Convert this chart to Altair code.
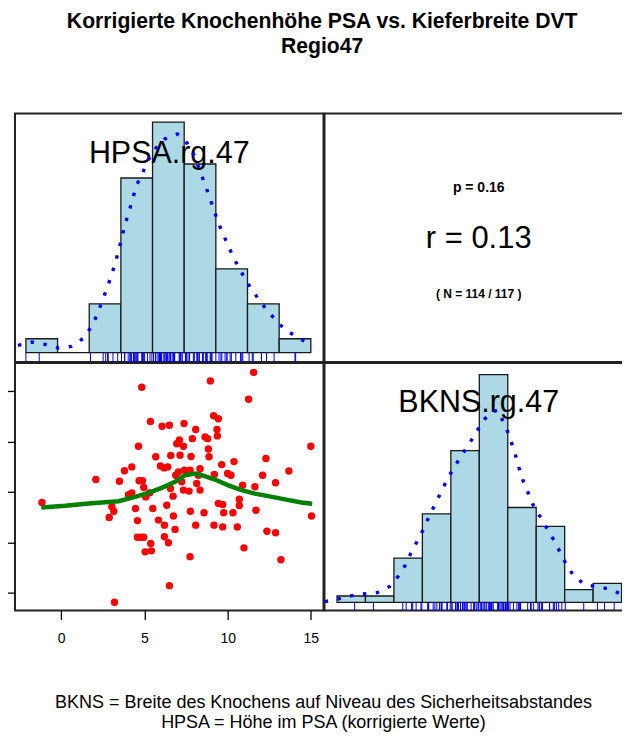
import altair as alt
import pandas as pd

FONT = "Liberation Sans"

TITLE = ["Korrigierte Knochenhöhe PSA vs. Kieferbreite DVT", "Regio47"]
CAPTION = ["BKNS = Breite des Knochens auf Niveau des Sicherheitsabstandes",
           "HPSA = Höhe im PSA (korrigierte Werte)"]
LABEL_X = "HPSA.rg.47"
LABEL_Y = "BKNS.rg.47"
p_value = 0.16
r_value = 0.13
n_pairs = 114
n_total = 117

# scatter: x = HPSA, y = BKNS
hpsa = [-1.16, 2.08, 3.20, 3.04, 3.16, 2.88, 3.50, 3.80, 4.24, 4.04, 4.24, 4.46, 4.58, 4.58,
        4.80, 4.96, 4.64, 4.84, 4.68, 4.88, 4.96, 5.08, 5.32, 5.36, 5.38, 5.04, 5.42, 5.50,
        5.68, 5.84, 5.96, 6.18, 6.40, 6.06, 6.50, 6.20, 6.20, 6.44, 6.34, 6.50, 6.58, 6.56,
        6.72, 6.74, 6.84, 6.88, 7.04, 6.94, 7.10, 7.34, 7.14, 7.24, 7.38, 7.34, 7.68, 7.40,
        7.74, 7.76, 7.80, 7.74, 7.88, 8.08, 8.08, 8.14, 8.34, 8.24, 8.34, 8.58, 8.64, 8.80,
        8.84, 8.88, 8.96, 9.16, 9.44, 9.36, 9.38, 9.20, 9.18, 9.44, 9.70, 9.64, 9.70, 9.76,
        10.00, 10.20, 10.32, 10.38, 10.58, 10.70, 10.70, 10.90, 10.98, 11.26, 11.56, 11.64,
        11.70, 12.10, 12.30, 12.36, 12.88, 12.88, 13.20, 13.68, 15.00, 15.04]
bkns = [7.58, 8.49, 3.62, 7.41, 7.23, 6.98, 8.42, 8.84, 8.99, 7.89, 7.96, 7.34, 6.86, 6.20,
        6.20, 6.20, 9.81, 12.15, 8.44, 8.44, 8.17, 7.80, 7.96, 10.79, 5.95, 5.62, 5.66, 7.34,
        9.39, 6.88, 9.03, 8.95, 8.99, 10.60, 10.64, 6.68, 6.22, 5.98, 7.47, 4.28, 9.44, 8.13,
        7.83, 7.04, 6.51, 8.66, 8.79, 9.91, 10.06, 9.81, 9.45, 8.40, 10.71, 8.07, 8.03, 8.86,
        8.86, 7.23, 9.40, 5.43, 10.11, 10.47, 6.68, 8.33, 8.07, 8.66, 8.92, 7.17, 10.18, 10.11,
        9.70, 9.39, 12.40, 11.02, 10.90, 10.47, 10.22, 8.69, 6.68, 7.54, 7.50, 9.08, 6.61, 7.17,
        8.73, 8.66, 7.17, 9.20, 6.61, 7.71, 7.46, 8.26, 5.78, 11.67, 12.74, 8.20, 7.27, 8.66,
        9.32, 6.44, 8.36, 6.38, 5.31, 8.83, 9.81, 7.04]
hpsa_only = [-2.0]  # HPSA value without BKNS partner (shown in rug only)

# loess smoother
loess_x = [-1.20, 0.24, 1.64, 3.44, 4.44, 5.24, 6.04, 6.84, 7.44, 8.04, 8.44, 9.24, 10.04,
           10.84, 11.64, 12.44, 13.44, 14.44, 15.08]
loess_y = [7.38, 7.45, 7.54, 7.63, 7.80, 7.96, 8.16, 8.40, 8.66, 8.73, 8.66, 8.49, 8.26,
           8.07, 7.93, 7.83, 7.70, 7.58, 7.53]

# histograms
hpsa_breaks = [-2, 0, 2, 4, 6, 8, 10, 12, 14, 16]
hpsa_counts = [2, 0, 7, 25, 33, 27, 12, 7, 2]
bkns_breaks = [3, 4, 5, 6, 7, 8, 9, 10, 11, 12, 13]
bkns_counts = [1, 1, 7, 14, 24, 36, 15, 12, 2, 3]

# density curves (in count units)
hpsa_dens_x = [-2.50, -1.62, -0.78, 0.06, 0.86, 1.60, 2.12, 2.50, 2.79, 3.09, 3.38, 3.64, 3.85,
               4.06, 4.27, 4.52, 4.75, 5.00, 5.38, 5.74, 6.20, 6.75, 7.57, 8.18, 8.64, 8.94,
               9.21, 9.52, 9.78, 10.07, 10.37, 10.74, 11.08, 11.50, 11.90, 12.39, 12.85, 13.44,
               13.98, 14.68, 15.41, 16.11]
hpsa_dens_y = [1.05, 1.52, 1.19, 0.67, 0.90, 2.0, 3.67, 5.43, 7.24, 9.0, 10.9, 12.8, 14.57,
               16.52, 18.43, 20.19, 22.1, 24.0, 25.8, 27.6, 29.24, 30.57, 31.29, 30.0, 28.19,
               26.38, 24.71, 22.81, 21.05, 19.14, 17.38, 15.57, 13.76, 12.0, 10.33, 8.67, 7.14,
               5.57, 4.14, 2.86, 1.90, 0.95]
bkns_dens_x = [2.57, 2.98, 3.45, 3.91, 4.42, 4.84, 5.14, 5.39, 5.59, 5.82, 6.03, 6.23, 6.45,
               6.66, 6.87, 7.11, 7.36, 7.62, 7.88, 8.09, 8.42, 8.65, 8.97, 9.12, 9.27, 9.40,
               9.54, 9.73, 9.91, 10.17, 10.40, 10.64, 10.86, 11.08, 11.34, 11.73, 12.19, 12.69,
               13.09]
bkns_dens_y = [0.1, 0.47, 1.0, 1.32, 1.53, 2.47, 4.05, 5.79, 7.74, 9.68, 11.53, 13.53, 15.53,
               17.47, 19.42, 21.32, 23.1, 24.95, 26.7, 28.5, 30.1, 30.4, 27.3, 25.4, 23.3, 21.2,
               19.2, 17.2, 15.2, 13.3, 11.5, 9.68, 7.74, 5.79, 4.05, 2.74, 2.47, 1.95, 1.0]

W = 309
H_TOP = 249
H_BOT = 248

tl_x = alt.Scale(domain=[-2.69, 16.80], nice=False, zero=False)
tl_y = alt.Scale(domain=[-1.33, 34.24], nice=False, zero=False)
bl_x = alt.Scale(domain=[-2.78, 15.76], nice=False, zero=False)
bl_y = alt.Scale(domain=[3.29, 13.11], nice=False, zero=False)
br_x = alt.Scale(domain=[2.56, 13.40], nice=False, zero=False)
br_y = alt.Scale(domain=[-1.31, 37.85], nice=False, zero=False)


def hist_panel(breaks, counts, dens_x, dens_y, rug, label, sx, sy, ymin, h):
    hdf = pd.DataFrame({"lo": breaks[:-1], "hi": breaks[1:], "n": counts})
    ddf = pd.DataFrame({"x": dens_x, "y": dens_y})
    rdf = pd.DataFrame({"v": rug})
    ldf = pd.DataFrame({"t": [label]})
    bars = alt.Chart(hdf).mark_rect(fill="#ADD8E6", stroke="#1a1a1a", strokeWidth=1.3).encode(
        x=alt.X("lo:Q", scale=sx, axis=None),
        x2="hi:Q",
        y=alt.Y("n:Q", scale=sy, axis=None),
        y2=alt.datum(0),
    )
    txt = alt.Chart(ldf).mark_text(font=FONT, fontSize=30.5, align="center",
                                   baseline="alphabetic", color="black").encode(
        text="t:N", x=alt.value(W / 2), y=alt.value(49.5))
    dens = alt.Chart(ddf).mark_line(color="#0000FF", strokeWidth=3.4, strokeDash=[3.4, 9.6],
                                    strokeCap="butt").encode(
        x=alt.X("x:Q", scale=sx, axis=None), y=alt.Y("y:Q", scale=sy, axis=None))
    rugm = alt.Chart(rdf).mark_rule(color="#0000FF", strokeWidth=1).encode(
        x=alt.X("v:Q", scale=sx, axis=None), y=alt.datum(0), y2=alt.datum(ymin))
    return alt.layer(bars, txt, dens, rugm).properties(width=W, height=h)


tl = hist_panel(hpsa_breaks, hpsa_counts, hpsa_dens_x, hpsa_dens_y, hpsa + hpsa_only,
                LABEL_X, tl_x, tl_y, -1.33, H_TOP)
br = hist_panel(bkns_breaks, bkns_counts, bkns_dens_x, bkns_dens_y, bkns,
                LABEL_Y, br_x, br_y, -1.31, H_BOT)

sdf = pd.DataFrame({
    "p": [f"p = {p_value:.2f}"],
    "r": [f"r = {r_value:.2f}"],
    "n": [f"( N = {n_pairs} / {n_total} )"],
})
tbase = alt.Chart(sdf)
tr = alt.layer(
    tbase.mark_text(font=FONT, fontSize=14, fontWeight="bold", align="center",
                    baseline="alphabetic", color="black").encode(
        text="p:N", x=alt.value(W / 2), y=alt.value(78.5)),
    tbase.mark_text(font=FONT, fontSize=31, align="center",
                    baseline="alphabetic", color="black").encode(
        text="r:N", x=alt.value(W / 2), y=alt.value(134.7)),
    tbase.mark_text(font=FONT, fontSize=12, fontWeight="bold", align="center",
                    baseline="alphabetic", color="black").encode(
        text="n:N", x=alt.value(W / 2), y=alt.value(185)),
).properties(width=W, height=H_TOP)

x_axis = alt.Axis(values=[0, 5, 10, 15], format="d", labelFontSize=14, labelFont=FONT,
                  labelColor="black", tickSize=9, tickWidth=1.3, tickColor="black",
                  labelPadding=12, domain=False, grid=False, labelFlush=False,
                  title=CAPTION, titleFont=FONT, titleFontSize=18, titleFontWeight="normal",
                  titleColor="black", titleX=308.5, titleY=92, titleAlign="center",
                  titleBaseline="middle", titleLineHeight=20, titleAngle=0)
y_axis = alt.Axis(values=[4, 6, 8, 10, 12], labels=False, tickSize=9, tickWidth=1.3,
                  tickColor="black", domain=False, grid=False, title="")

scdf = pd.DataFrame({"hpsa": hpsa, "bkns": bkns})
lodf = pd.DataFrame({"hpsa": loess_x, "bkns": loess_y})
pts = alt.Chart(scdf).mark_circle(color="#FF0000", size=55, opacity=1).encode(
    x=alt.X("hpsa:Q", scale=bl_x, axis=x_axis),
    y=alt.Y("bkns:Q", scale=bl_y, axis=y_axis))
lo = alt.Chart(lodf).mark_line(color="#008000", strokeWidth=4.5).encode(
    x=alt.X("hpsa:Q", scale=bl_x, axis=x_axis),
    y=alt.Y("bkns:Q", scale=bl_y, axis=y_axis))
bl = alt.layer(pts, lo).properties(width=W, height=H_BOT)

chart = alt.concat(tl, tr, bl, br, columns=2, spacing=1, bounds="flush").properties(
    title=alt.TitleParams(text=TITLE, font=FONT, fontSize=21.2, fontWeight="bold",
                          color="black", anchor="middle", offset=55, dx=3,
                          lineHeight=25),
    padding={"left": -4, "top": 2, "right": -12, "bottom": 0},
).configure_view(stroke="#222222", strokeWidth=2)

chart.save("out.html", embed_options={"renderer": "svg", "actions": False})
